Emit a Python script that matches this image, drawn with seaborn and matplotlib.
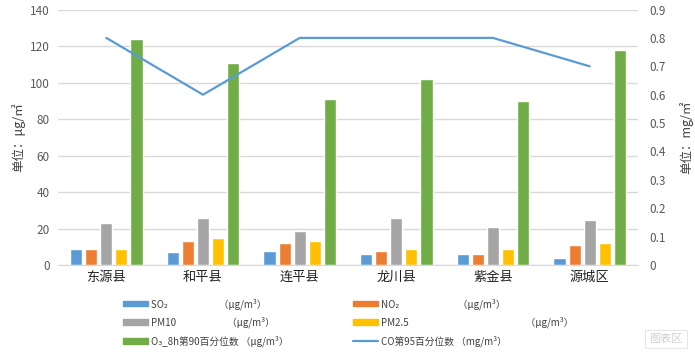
import numpy as np
import pandas as pd
import matplotlib.pyplot as plt
import matplotlib.patches as patches
from matplotlib.lines import Line2D
import seaborn as sns

counties = ['东源县', '和平县', '连平县', '龙川县', '紫金县', '源城区']
so2 = [8.7, 7.1, 7.6, 6.0, 6.0, 3.8]
no2 = [8.7, 13.1, 12.0, 7.6, 6.0, 10.9]
pm10 = [22.9, 25.6, 18.5, 25.6, 20.7, 24.5]
pm25 = [8.7, 14.7, 13.1, 8.7, 8.7, 12.0]
o3 = [123.8, 110.9, 91.1, 102.0, 90.0, 117.8]
co = [0.8, 0.6, 0.8, 0.8, 0.8, 0.7]

pollutants = ['SO2', 'NO2', 'PM10', 'PM2.5', 'O3']
labels = {
    'SO2': 'SO₂\u3000\u3000\u3000\u3000\u3000 （μg/m³）',
    'NO2': 'NO₂\u3000\u3000\u3000\u3000\u3000\u3000（μg/m³）',
    'PM10': 'PM10\u3000\u3000\u3000\u3000\u3000 （μg/m³）',
    'PM2.5': 'PM2.5\u3000\u3000\u3000\u3000\u3000\u3000\u3000\u3000\u3000\u3000\u3000\u3000（μg/m³）',
    'O3': 'O₃_8h第90百分位数 （μg/m³）',
    'CO': 'CO第95百分位数 （mg/m³）',
}
palette = ['#5B9BD5', '#ED7D31', '#A5A5A5', '#FFC000', '#70AD47']
co_color = '#5B9BD5'

df = pd.DataFrame({'county': counties, 'SO2': so2, 'NO2': no2, 'PM10': pm10,
                   'PM2.5': pm25, 'O3': o3})
long = df.melt(id_vars='county', var_name='pollutant', value_name='value')
co_df = pd.DataFrame({'pos': np.arange(len(counties)), 'co': co})

sns.set_style('white')
plt.rcParams['font.family'] = ['Noto Sans CJK SC', 'DejaVu Sans']

fig = plt.figure(figsize=(6.95, 3.53), dpi=100)
ax = fig.add_axes([0.0835, 0.2493, 0.8345, 0.7237])

sns.barplot(data=long, x='county', y='value', hue='pollutant', hue_order=pollutants,
            palette=palette, width=0.78, gap=0.2, ax=ax, saturation=1, legend=False)
ax.set_ylim(0, 140)
ax.set_yticks(np.arange(0, 141, 20))
ax.set_xlim(-0.5, len(counties) - 0.5)
ax.grid(axis='y', color='#D9D9D9', linewidth=1)
ax.set_axisbelow(True)
for s in ['top', 'right', 'left']:
    ax.spines[s].set_visible(False)
ax.spines['bottom'].set_color('#D9D9D9')
ax.tick_params(axis='y', length=0, labelsize=8.5, labelcolor='#595959', pad=6)
ax.tick_params(axis='x', length=0, labelsize=9.5, labelcolor='#222222', pad=4)
ax.set_xlabel('')
ax.set_ylabel('单位：μg/㎡', fontsize=9, color='#404040', labelpad=3)

ax2 = ax.twinx()
sns.lineplot(data=co_df, x='pos', y='co', ax=ax2, color=co_color, linewidth=1.6)
ax2.set_ylim(0, 0.9)
ax2.set_yticks(np.arange(0, 0.91, 0.1))
ax2.set_yticklabels(['0'] + [f'{v:.1f}' for v in np.arange(0.1, 0.91, 0.1)])
ax2.set_xlim(-0.5, len(counties) - 0.5)
for s in ax2.spines.values():
    s.set_visible(False)
ax2.tick_params(axis='y', length=0, labelsize=8.5, labelcolor='#595959', pad=8)
ax2.set_ylabel('单位：mg/㎡', fontsize=9, color='#404040', labelpad=10)
ax2.set_xlabel('')

handles = {p: patches.Patch(color=c) for p, c in zip(pollutants, palette)}
handles['CO'] = Line2D([], [], color=co_color, linewidth=1.6)

legend_kw = dict(loc='upper left', frameon=False, fontsize=7, handlelength=2.6,
                 handleheight=0.55, handletextpad=0.25, labelspacing=0.75,
                 borderpad=0, borderaxespad=0, labelcolor='#404040')
col1 = ['SO2', 'PM10', 'O3']
col2 = ['NO2', 'PM2.5', 'CO']
fig.legend([handles[k] for k in col1], [labels[k] for k in col1],
           bbox_to_anchor=(123 / 695, 1 - 298 / 353), **legend_kw)
fig.legend([handles[k] for k in col2], [labels[k] for k in col2],
           bbox_to_anchor=(353 / 695, 1 - 298 / 353), **legend_kw)

fig.text(666 / 695, 1 - 339 / 353, '图表区', fontsize=8, color='#D0D0D0',
         ha='center', va='center',
         bbox=dict(boxstyle='square,pad=0.35', fc='white', ec='#E6E6E6', lw=0.8))

fig.savefig('out.png', dpi=100)
